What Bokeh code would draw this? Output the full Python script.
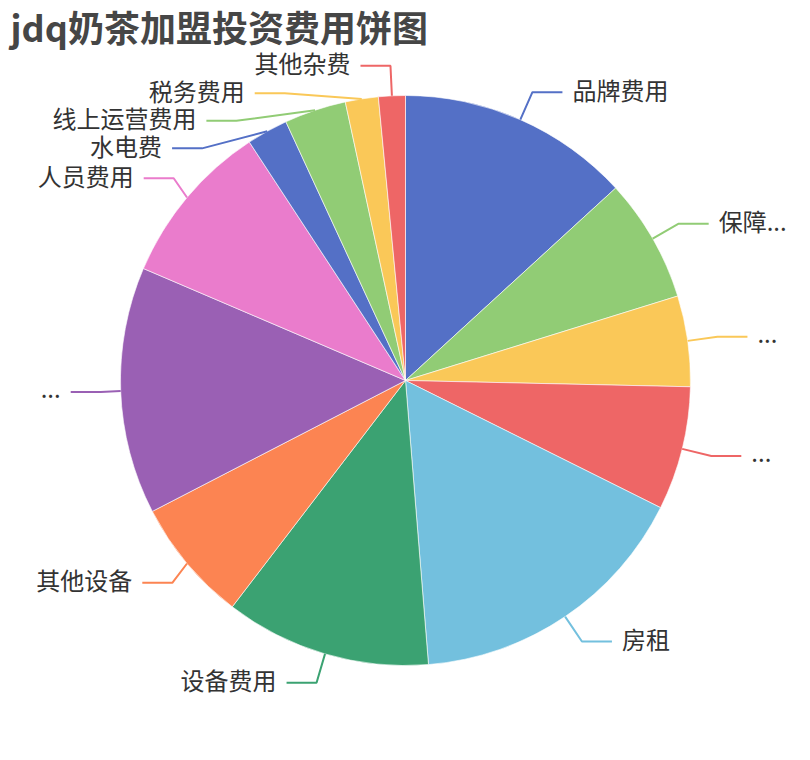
import numpy as np
from math import pi
from bokeh.plotting import figure
from bokeh.models import Range1d, ColumnDataSource
from bokeh.core.properties import value
from bokeh.embed import file_html
from bokeh.resources import INLINE

title = "jdq奶茶加盟投资费用饼图"
categories = ["品牌费用", "保障...", "...", "...", "房租", "设备费用", "其他设备",
              "...", "人员费用", "水电费", "线上运营费用", "税务费用", "其他杂费"]
amounts = [5.65, 3, 2.2, 3, 7, 5, 3, 6, 4, 1, 1.5, 0.8, 0.65]

palette = ['#5470c6', '#91cc75', '#fac858', '#ee6666', '#73c0de', '#3ba272',
           '#fc8452', '#9a60b4', '#ea7ccc']
colors = [palette[i % len(palette)] for i in range(len(amounts))]

W, H = 794, 744
cx, cy, R = 405, 380, 285     # pie centre / radius in pixels
len1, len2, gap = 30, 30, 10  # label line segments
FONT = "Noto Sans CJK SC"

def fy(y):
    # pixel y (down) -> data y (up)
    return H - y

p = figure(width=W, height=H, output_backend="svg", toolbar_location=None,
           x_range=Range1d(0, W), y_range=Range1d(0, H), min_border=0)
p.grid.visible = False
p.axis.visible = False
p.outline_line_color = None

vals = np.array(amounts, dtype=float)
cum = np.concatenate([[0], np.cumsum(vals / vals.sum())])
src = ColumnDataSource(dict(start=pi / 2 - 2 * pi * cum[:-1], end=pi / 2 - 2 * pi * cum[1:],
                            color=colors, name=categories))
p.wedge(x=cx, y=fy(cy), radius=R, start_angle='start', end_angle='end', direction="clock",
        fill_color='color', line_color='white', line_width=0.6, source=src)

# label placement (clockwise from 12 o'clock), roughly like echarts does it
mid = pi * (cum[:-1] + cum[1:])
RL = R + len1
labels = []
for i, m in enumerate(mid):
    side = 1 if np.sin(m) >= 0 else -1
    labels.append(dict(i=i, side=side, ex=cx + R * np.sin(m), ey=cy - R * np.cos(m),
                       lx=cx + RL * np.sin(m), ly=cy - RL * np.cos(m)))

for l in labels:
    l['tx'] = l['lx'] + l['side'] * (len2 + gap)

for side in (1, -1):
    grp = sorted([l for l in labels if l['side'] == side], key=lambda l: l['ly'])
    moved = False
    for a, b in zip(grp, grp[1:]):
        if b['ly'] < a['ly'] + 27.5:
            b['ly'] = a['ly'] + 27.5
            moved = True
    if not moved:
        continue
    # put the shifted labels on an ellipse through the outermost one of each half
    for half in ([l for l in grp if l['ly'] <= cy], [l for l in grp if l['ly'] > cy]):
        if not half:
            continue
        far = max(half, key=lambda l: abs(l['ly'] - cy))
        dxg = abs(far['lx'] - cx) + gap
        dy = abs(far['ly'] - cy)
        rB = dy / np.sqrt(1 - dxg ** 2 / RL ** 2) if dxg < RL else RL
        for l in half:
            dy = abs(l['ly'] - cy)
            dxe = RL * np.sqrt(max(0, 1 - dy ** 2 / rB ** 2))
            l['tx'] = cx + side * (dxe + len2)
            l['lx'] = cx + side * (dxe - gap)

xs, ys, lc = [], [], []
tx = {1: [], -1: []}
for l in labels:
    endx = l['lx'] + l['side'] * len2
    xs.append([l['ex'], l['lx'], endx])
    ys.append([fy(l['ey']), fy(l['ly']), fy(l['ly'])])
    lc.append(colors[l['i']])
    tx[l['side']].append((l['tx'], fy(l['ly'] - 3), categories[l['i']]))

p.multi_line(xs='xs', ys='ys', line_color='color', line_width=2,
             source=ColumnDataSource(dict(xs=xs, ys=ys, color=lc)))

for side, align in ((1, 'left'), (-1, 'right')):
    t = tx[side]
    p.text(x=[a[0] for a in t], y=[a[1] for a in t], text=[a[2] for a in t],
           text_align=align, text_baseline='middle', text_font=value(FONT),
           text_font_size='24px', text_color='#333333')

p.text(x=[10], y=[fy(25)], text=[title], text_align='left', text_baseline='middle',
       text_font=value(FONT), text_font_size='36px', text_font_style='bold',
       text_color='#464646')

open("out.html", "w").write(file_html(p, INLINE))
